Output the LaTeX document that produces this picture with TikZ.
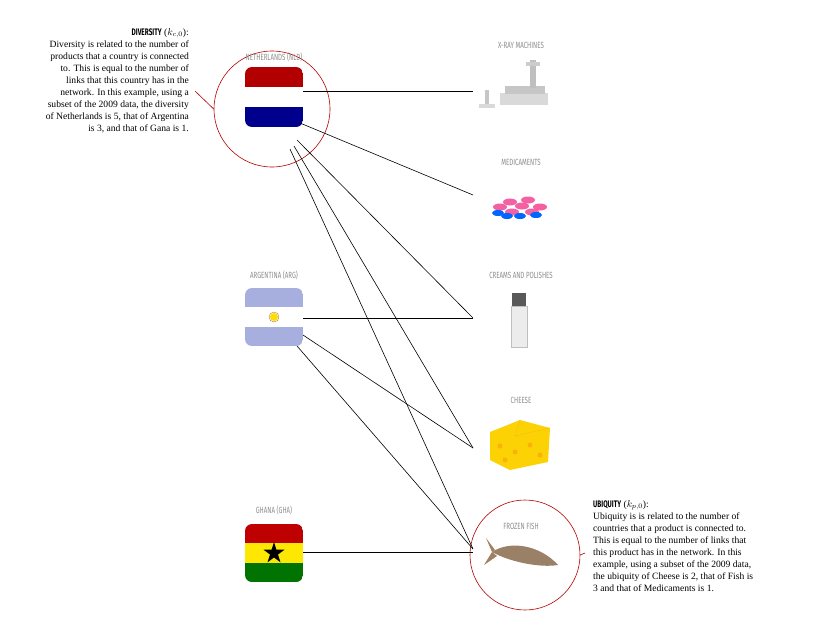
\documentclass[tikz,border=0pt]{standalone}
\usepackage{fontspec}
\setmainfont{Liberation Serif}
\newfontfamily\fira{Fira Sans}
\newcommand{\lb}[1]{\scalebox{0.68}[1]{#1}}
\begin{document}
\begin{tikzpicture}[x=1pt,y=-1pt,
  lbl/.style={font=\fira\fontsize{9}{10}\selectfont, text=gray!90, inner sep=0},
  ring/.style={draw=red!70!black, line width=0.6pt},
  link/.style={draw=black, line width=0.6pt},
  body/.style={font=\fontsize{9.6}{12}\selectfont, inner sep=0}]
\useasboundingbox (0,0) rectangle (819,629);
% circles
\node[ring, circle, minimum size=116pt] (nlc) at (272,109) {};
\node[ring, circle, minimum size=110pt] (fishc) at (525,555) {};
% country labels
\node[lbl] (nll) at (274,57) {\lb{NETHERLANDS (NLD)}};
\node[lbl] (arl) at (274,275) {\lb{ARGENTINA (ARG)}};
\node[lbl] (ghl) at (274,510) {\lb{GHANA (GHA)}};
% flags
\begin{scope}
\clip[rounded corners=7pt] (245,67) rectangle (303,127);
\fill[red!70!black] (245,67) rectangle (303,87);
\fill[white] (245,87) rectangle (303,107);
\fill[blue!55!black] (245,107) rectangle (303,127);
\end{scope}
\begin{scope}
\clip[rounded corners=7pt] (245,288) rectangle (303,346);
\fill[cyan!30!blue!35] (245,288) rectangle (303,307);
\fill[white] (245,307) rectangle (303,327);
\fill[cyan!30!blue!35] (245,327) rectangle (303,346);
\end{scope}
\fill[yellow!80!orange] (274,317) circle (4pt);
\draw[orange!70!black, line width=0.3pt] (274,317) circle (5pt);
\begin{scope}
\clip[rounded corners=7pt] (245,524) rectangle (303,582);
\fill[red!75!black] (245,524) rectangle (303,543);
\fill[yellow!90!orange] (245,543) rectangle (303,563);
\fill[green!45!black] (245,563) rectangle (303,582);
\end{scope}
\fill[black] (274,542) -- (276.4,549.7) -- (284.5,549.7) -- (278,554.5) -- (280.5,562.3) -- (274,557.5) -- (267.5,562.3) -- (270,554.5) -- (263.5,549.7) -- (271.6,549.7) -- cycle;
% product labels
\node[lbl] (xl) at (521,45) {\lb{X-RAY MACHINES}};
\node[lbl] (ml) at (521,162) {\lb{MEDICAMENTS}};
\node[lbl] (cl) at (521,275) {\lb{CREAMS AND POLISHES}};
\node[lbl] (chl) at (521,400) {\lb{CHEESE}};
\node[lbl] (fl) at (521,526) {\lb{FROZEN FISH}};
% product images
\fill[gray!30] (500,93) rectangle (548,105);
\fill[gray!45] (505,86) rectangle (545,94);
\fill[gray!50] (530,60) rectangle (536,88);
\fill[gray!40] (526,62) rectangle (540,66);
\fill[gray!45] (485,90) rectangle (489,106);
\fill[gray!30] (479,104) rectangle (495,108);
\foreach \p in {(500,207),(512,212),(522,206),(532,212),(540,207),(510,202),(528,200)}
  \fill[magenta!50!pink] \p ellipse (7pt and 3.5pt);
\foreach \p in {(498,213),(507,216),(520,216),(536,215)}
  \fill[blue!60!cyan] \p ellipse (6pt and 3pt);
\fill[gray!70!black] (512,293) rectangle (526,306);
\fill[gray!15] (511,306) rectangle (527,347);
\draw[gray!50] (511,306) rectangle (527,347);
\fill[yellow!70!orange] (490,432) -- (520,420) -- (550,428) -- (548,462) -- (510,470) -- (490,460) -- cycle;
\draw[yellow!50!orange] (520,420) -- (515,436) -- (550,428);
\foreach \p in {(500,446),(515,452),(530,445),(540,455),(505,460)}
  \fill[yellow!40!orange] \p circle (2.5pt);
\fill[gray!60!brown] (492,552) .. controls (510,540) and (540,545) .. (558,565) .. controls (540,568) and (510,562) .. (492,552);
\fill[gray!50!brown] (492,552) -- (486,538) -- (495,550) -- cycle;
\fill[gray!50!brown] (492,552) -- (484,565) -- (497,556) -- cycle;
% anchor coordinates
\coordinate (nlx) at (303,91);
\coordinate (nl1) at (300,123);
\coordinate (nl2) at (297,140);
\coordinate (nl3) at (294,146);
\coordinate (nl4) at (290,149);
\coordinate (ar1) at (303,318);
\coordinate (ar2) at (303,335);
\coordinate (ar3) at (297,346);
\coordinate (gh1) at (303,552);
\coordinate (xr) at (473,91);
\coordinate (md) at (473,195);
\coordinate (cr) at (473,318);
\coordinate (ch) at (473,448);
\coordinate (fs) at (473,549);
\coordinate (fsg) at (473,552);
\draw[link] (nlx) -- (xr);
\draw[link] (nl1) -- (md);
\draw[link] (nl2) -- (cr);
\draw[link] (nl3) -- (ch);
\draw[link] (nl4) -- (fs);
\draw[link] (ar1) -- (cr);
\draw[link] (ar2) -- (ch);
\draw[link] (ar3) -- (fs);
\draw[link] (gh1) -- (fsg);
% callout lines
\coordinate (dl) at (195,91);
\coordinate (ul) at (585,553);
\draw[ring] (nlc.west) -- (dl);
\draw[ring] (fishc.east) -- (ul);
% texts
\node[body, align=right, anchor=north east] (divt) at (189,28)
 {{\fira\bfseries\fontsize{9.5}{10}\selectfont\lb{DIVERSITY}} ($k_{c,0}$):\\
 Diversity is related to the number of\\ products that a country is connected\\ to. This is equal to the number of\\ links that this country has in the\\ network. In this example, using a\\ subset of the 2009 data, the diversity\\ of Netherlands is 5, that of Argentina\\ is 3, and that of Gana is 1.};
\node[body, align=left, anchor=north west] (ubt) at (593,500)
 {{\fira\bfseries\fontsize{9.5}{10}\selectfont\lb{UBIQUITY}} ($k_{p,0}$):\\
 Ubiquity is is related to the number of\\ countries that a product is connected to.\\ This is equal to the number of links that\\ this product has in the network. In this\\ example, using a subset of the 2009 data,\\ the ubiquity of Cheese is 2, that of Fish is\\ 3 and that of Medicaments is 1.};
\end{tikzpicture}
\end{document}
